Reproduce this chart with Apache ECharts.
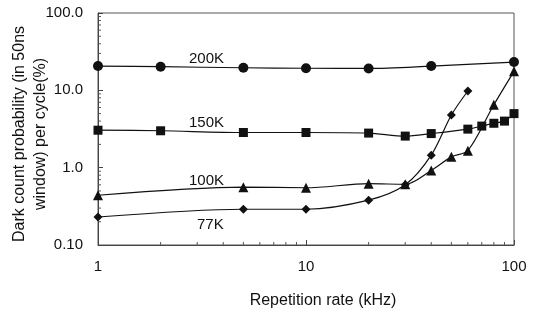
<!DOCTYPE html>
<html>
<head>
<meta charset="utf-8">
<script src="https://cdn.jsdelivr.net/npm/echarts@6/dist/echarts.min.js"></script>
<style>
  html, body { margin: 0; padding: 0; background: #fff; }
  #chart { width: 534px; height: 320px; }
</style>
</head>
<body>
<div id="chart"></div>
<script>
// Repetition rate (kHz) for each temperature series
const x200K = [1, 2, 5, 10, 20, 40, 100];
const y200K = [20.6, 20.2, 19.6, 19.3, 19.2, 20.6, 23.2];

const x150K = [1, 2, 5, 10, 20, 30, 40, 60, 70, 80, 90, 100];
const y150K = [3.05, 3.0, 2.85, 2.85, 2.8, 2.56, 2.76, 3.15, 3.45, 3.75, 4.0, 5.0];

const x100K = [1, 5, 10, 20, 30, 40, 50, 60, 80, 100];
const y100K = [0.44, 0.56, 0.55, 0.62, 0.61, 0.92, 1.38, 1.66, 6.5, 17.6];

const x77K = [1, 5, 10, 20, 30, 40, 50, 60];
const y77K = [0.23, 0.29, 0.29, 0.38, 0.6, 1.45, 4.8, 9.8];

// Minor tick values on the log axes
const xMinorTicks = [2, 3, 4, 5, 6, 7, 8, 9, 20, 30, 40, 50, 60, 70, 80, 90];
const yMinorTicks = [0.2, 0.3, 0.4, 0.5, 0.6, 0.7, 0.8, 0.9, 2, 3, 4, 5, 6, 7, 8, 9, 20, 30, 40, 50, 60, 70, 80, 90];

const FONT = '"Liberation Sans", Arial, sans-serif';
const INK = '#111';

function pairs(xs, ys) {
  return xs.map((x, i) => [x, ys[i]]);
}

function lineSeries(name, xs, ys, symbol, size) {
  return {
    name: name,
    type: 'line',
    data: pairs(xs, ys),
    smooth: 0.3,
    symbol: symbol,
    symbolSize: size,
    lineStyle: { color: INK, width: 1.2 },
    itemStyle: { color: INK },
    z: 3
  };
}

const chart = echarts.init(document.getElementById('chart'), null, { renderer: 'canvas' });

chart.setOption({
  backgroundColor: '#fff',
  animation: false,
  grid: {
    left: 98, right: 20, top: 13, bottom: 75,
    show: true, borderColor: '#555', borderWidth: 1, backgroundColor: 'transparent'
  },
  xAxis: {
    type: 'log', logBase: 10, min: 1, max: 100,
    axisLine: { lineStyle: { color: '#444', width: 1 } },
    axisTick: { inside: true, length: 5, lineStyle: { color: '#444' } },
    splitLine: { show: false },
    axisLabel: {
      color: INK, fontFamily: FONT, fontSize: 15, margin: 14,
      formatter: v => String(Math.round(v))
    }
  },
  yAxis: {
    type: 'log', logBase: 10, min: 0.1, max: 100,
    axisLine: { show: true, lineStyle: { color: '#444', width: 1 } },
    axisTick: { show: true, inside: true, length: 5, lineStyle: { color: '#444' } },
    splitLine: { show: false },
    axisLabel: {
      color: INK, fontFamily: FONT, fontSize: 15, margin: 15,
      formatter: v => (v < 1 ? Number(v).toFixed(2) : Number(v).toFixed(1))
    }
  },
  series: [
    lineSeries('200K', x200K, y200K, 'circle', 10),
    lineSeries('150K', x150K, y150K, 'rect', 9),
    lineSeries('100K', x100K, y100K, 'triangle', 10),
    lineSeries('77K', x77K, y77K, 'diamond', 9),
    {
      // short minor ticks along the bottom axis
      type: 'custom',
      silent: true,
      clip: false,
      data: xMinorTicks.map(v => [v, 0.1]),
      renderItem: function (params, api) {
        const p = api.coord([api.value(0), api.value(1)]);
        return {
          type: 'line',
          shape: { x1: p[0], y1: p[1], x2: p[0], y2: p[1] - 3 },
          style: { stroke: '#555', lineWidth: 1 }
        };
      },
      z: 2
    },
    {
      // short minor ticks along the left axis
      type: 'custom',
      silent: true,
      clip: false,
      data: yMinorTicks.map(v => [1, v]),
      renderItem: function (params, api) {
        const p = api.coord([api.value(0), api.value(1)]);
        return {
          type: 'line',
          shape: { x1: p[0], y1: p[1], x2: p[0] + 3, y2: p[1] },
          style: { stroke: '#555', lineWidth: 1 }
        };
      },
      z: 2
    }
  ],
  graphic: [
    { type: 'text', left: 189, top: 51, style: { text: '200K', font: '15px ' + FONT, fill: INK } },
    { type: 'text', left: 189, top: 115, style: { text: '150K', font: '15px ' + FONT, fill: INK } },
    { type: 'text', left: 189, top: 173, style: { text: '100K', font: '15px ' + FONT, fill: INK } },
    { type: 'text', left: 197, top: 217, style: { text: '77K', font: '15px ' + FONT, fill: INK } },
    {
      type: 'text', x: 30, y: 134, rotation: Math.PI / 2,
      style: {
        text: 'Dark count probability (in 50ns\nwindow) per cycle(%)',
        font: '16px ' + FONT, fill: INK, lineHeight: 21,
        textAlign: 'center', textVerticalAlign: 'middle', align: 'center', verticalAlign: 'middle'
      }
    },
    {
      type: 'text', x: 323, y: 301,
      style: {
        text: 'Repetition rate (kHz)',
        font: '16px ' + FONT, fill: INK,
        textAlign: 'center', textVerticalAlign: 'middle', align: 'center', verticalAlign: 'middle'
      }
    }
  ]
});
</script>
</body>
</html>
